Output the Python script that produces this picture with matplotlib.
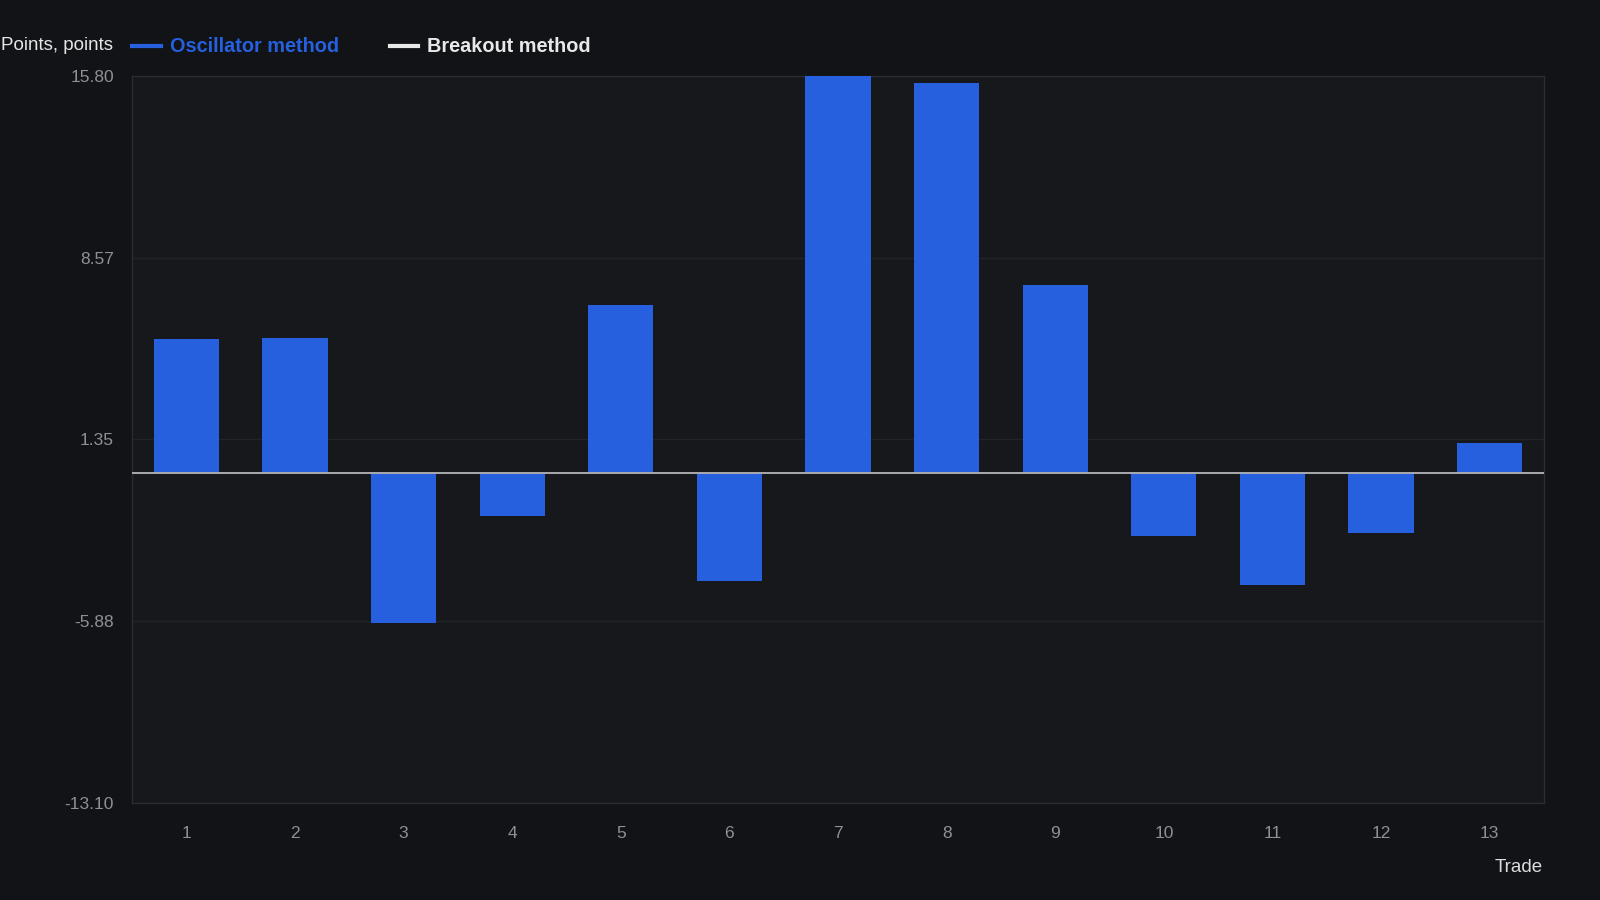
import numpy as np
import matplotlib
matplotlib.use("Agg")
import matplotlib.pyplot as plt
from matplotlib.lines import Line2D

plt.rcParams['font.family'] = ['Liberation Sans', 'DejaVu Sans']

# data
trades = list(range(1, 14))
oscillator = [5.34, 5.39, -5.96, -1.70, 6.69, -4.30, 15.80, 15.52, 7.49, -2.51, -4.46, -2.39, 1.19]
breakout = []  # series is in the legend but has no values drawn
ytick_vals = [-13.10, -5.88, 1.35, 8.57, 15.80]
ytick_labels = ["-13.10", "-5.88", "1.35", "8.57", "15.80"]

bg_fig = "#111317"
bg_ax = "#17181c"
blue = "#2660de"
grid_c = "#222428"
tick_c = "#8d9096"

fig = plt.figure(figsize=(16, 9), dpi=100, facecolor=bg_fig)
ax = fig.add_axes([0.0825, 0.108, 0.8825, 0.808])
ax.set_facecolor(bg_ax)

ax.bar(trades, oscillator, width=0.6, color=blue, zorder=3)
ax.axhline(0, color="#a9abaf", lw=1.4, zorder=4)

ax.set_xlim(0.5, 13.5)
ax.set_ylim(ytick_vals[0], ytick_vals[-1])
ax.set_yticks(ytick_vals)
ax.set_yticklabels(ytick_labels)
ax.set_xticks(trades)
ax.set_xticklabels([str(t) for t in trades])
ax.tick_params(axis="y", length=0, pad=13, labelsize=12.5, labelcolor=tick_c)
ax.tick_params(axis="x", length=0, pad=17, labelsize=12.5, labelcolor=tick_c)
ax.grid(axis="y", color=grid_c, lw=1, zorder=0)
for s in ax.spines.values():
    s.set_color("#2a2c31")
    s.set_linewidth(1)

# axis titles
fig.text(113 / 1600, 1 - 45 / 900, "Points, points", ha="right", va="center",
         fontsize=13.5, color="#e6e6e6")
fig.text(1543 / 1600, 1 - 868 / 900, "Trade", ha="right", va="center",
         fontsize=13.5, color="#dcdcdc")

# legend
handles = [Line2D([], [], color=blue, lw=3),
           Line2D(breakout, breakout, color="#e8e8e8", lw=3)]
leg = fig.legend(handles, ["Oscillator method", "Breakout method"],
                 loc="center left", bbox_to_anchor=(132 / 1600, 1 - 47 / 900),
                 ncol=2, frameon=False, borderpad=0, borderaxespad=0,
                 handlelength=1.45, handletextpad=0.45, columnspacing=2.55,
                 prop={"size": 14.3, "weight": "bold"})
for txt, c in zip(leg.get_texts(), [blue, "#e8e8e8"]):
    txt.set_color(c)

fig.savefig("out.png", dpi=100, facecolor=bg_fig)
